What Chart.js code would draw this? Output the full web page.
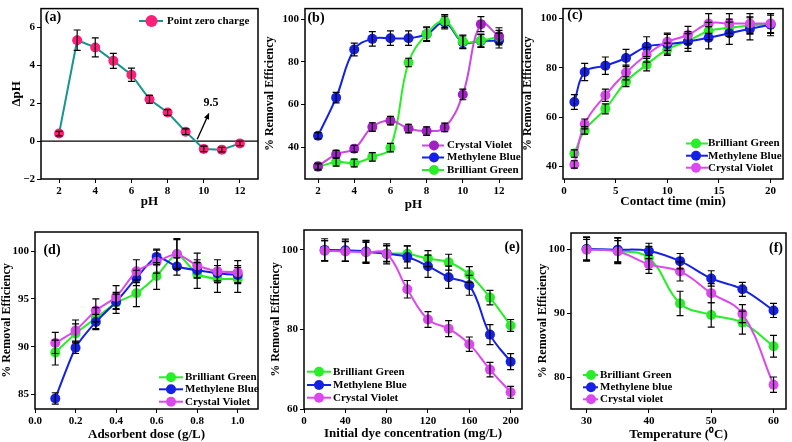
<!DOCTYPE html>
<html>
<head>
<meta charset="utf-8">
<script src="https://cdn.jsdelivr.net/npm/chart.js@4.4.1/dist/chart.umd.min.js"></script>
<style>
body{margin:0;background:#fff;width:792px;height:442px;position:relative;overflow:hidden}
canvas{position:absolute}
</style>
</head>
<body>
<canvas id="ca"></canvas><canvas id="cb"></canvas><canvas id="cc"></canvas>
<canvas id="cd"></canvas><canvas id="ce"></canvas><canvas id="cf"></canvas>
<script>
// (a) point zero charge
const phA = [2, 3, 4, 5, 6, 7, 8, 9, 10, 11, 12];
const dphA = [0.4, 5.33, 4.95, 4.24, 3.51, 2.21, 1.51, 0.5, -0.41, -0.45, -0.12];
const dphErr = [0.12, 0.54, 0.5, 0.4, 0.35, 0.21, 0.15, 0.15, 0.15, 0.12, 0.12];
const ticksAX = [2, 4, 6, 8, 10, 12];
const ticksAY = [-2, 0, 2, 4, 6];

// (b) effect of pH
const phB = [2, 3, 4, 5, 6, 7, 8, 9, 10, 11, 12];
const cvB = [31, 36.6, 39.2, 49.4, 52.4, 48.7, 47.5, 49.2, 64.7, 97.7, 92];
const cvBErr = [1.5, 1.8, 1.6, 2, 2, 2, 2, 2, 2.5, 3.5, 4];
const mbB = [45.3, 63.2, 85.8, 90.8, 91.1, 91.1, 93, 98.5, 89.2, 89.8, 90];
const mbBErr = [1.5, 2.5, 3, 3.4, 3.4, 3.4, 3.4, 3, 3, 3, 3.5];
const bgB = [30.6, 33, 32.5, 35.4, 39.7, 79.7, 93, 99.2, 89.6, 90, 91.8];
const bgBErr = [1.5, 2, 1.8, 2, 2, 2, 3, 3, 3, 3, 3];
const ticksBX = [2, 4, 6, 8, 10, 12];
const ticksBY = [40, 60, 80, 100];

// (c) contact time
const timeC = [1, 2, 4, 6, 8, 10, 12, 14, 16, 18, 20];
const bgC = [45.3, 54.7, 63.4, 74.4, 81.3, 87.5, 90.9, 94.9, 96.2, 97.2, 97.8];
const bgCErr = [1.5, 1.5, 2, 2, 2.5, 2.5, 3, 3.5, 3.5, 3.5, 3.5];
const mbC = [66.2, 78.3, 80.9, 84, 88.6, 89.6, 90.7, 92.2, 94, 95.8, 97.5];
const mbCErr = [3, 3.5, 3.5, 3.5, 4, 4, 4, 4.5, 4.5, 4.5, 4.5];
const cvC = [40.9, 57.3, 68.9, 78.1, 85.3, 90.6, 93.3, 98, 98, 98, 98];
const cvCErr = [1.5, 2, 2.5, 3, 3, 3.5, 3.5, 4, 4, 4, 4];
const ticksCX = [0, 5, 10, 15, 20];
const ticksCY = [40, 60, 80, 100];

// (d) adsorbent dose
const doseD = [0.1, 0.2, 0.3, 0.4, 0.5, 0.6, 0.7, 0.8, 0.9, 1.0];
const bgD = [89.4, 91.4, 93, 94.6, 95.6, 97.4, 99.7, 97.6, 97.1, 97.1];
const bgDErr = [1.3, 1, 1.1, 1.1, 1.4, 1.4, 1.5, 1.5, 1.4, 1.4];
const mbD = [84.6, 89.9, 92.6, 94.7, 97.2, 99.4, 98.4, 98, 97.7, 97.5];
const mbDErr = [0.6, 0.6, 0.8, 0.8, 0.8, 0.8, 0.9, 0.8, 0.8, 0.8];
const cvD = [90.4, 91.7, 93.8, 95.2, 97.9, 98.9, 99.7, 98.5, 97.9, 97.8];
const cvDErr = [1.1, 1.1, 1.2, 1.2, 1.2, 1.2, 1.6, 1.3, 1.2, 1.2];
const ticksDX = [0, 0.2, 0.4, 0.6, 0.8, 1.0];
const ticksDY = [85, 90, 95, 100];

// (e) initial dye concentration
const concE = [20, 40, 60, 80, 100, 120, 140, 160, 180, 200];
const bgE = [99.8, 99.7, 99.4, 99.1, 99, 97.8, 96.9, 93.8, 88, 81];
const bgEErr = [2.5, 2.5, 2.5, 2, 2, 2, 2, 2, 1.8, 1.5];
const mbE = [100, 99.9, 99.6, 99, 98.2, 95.9, 93.1, 91.1, 78.7, 71.9];
const mbEErr = [2.8, 2.8, 2.8, 2.5, 2.8, 2.8, 2.8, 2.5, 2.5, 2];
const cvE = [99.8, 99.6, 99.4, 99, 90.1, 82.5, 80.2, 76.3, 69.9, 64.2];
const cvEErr = [2.5, 2.5, 2.8, 2, 2.2, 2, 2, 1.8, 1.8, 1.5];
const ticksEX = [0, 40, 80, 120, 160, 200];
const ticksEY = [60, 80, 100];

// (f) temperature
const tempF = [30, 35, 40, 45, 50, 55, 60];
const bgF = [100, 99.7, 98.6, 91.5, 89.7, 88.5, 84.8];
const bgFErr = [1.8, 2, 1.8, 1.9, 1.9, 1.8, 1.7];
const mbF = [100, 99.9, 99.7, 98.1, 95.4, 93.7, 90.4];
const mbFErr = [1.9, 1.9, 1.2, 1.2, 1.2, 1.1, 1.1];
const cvF = [99.9, 99.6, 97.6, 96.5, 93.1, 89.9, 78.8];
const cvFErr = [1.6, 1.7, 1.4, 1.5, 1.5, 1.4, 1.2];
const ticksFX = [30, 40, 50, 60];
const ticksFY = [80, 90, 100];

const FONT = 'Liberation Serif';
const GREEN = '#27ee27', BLUE = '#1420e6', VIOLET = '#dc48f0';

function series(xs, ys, err, line, dot, tension, order, r) {
  return {
    data: xs.map((x, i) => ({x: x, y: ys[i]})),
    err: err,
    borderColor: line, backgroundColor: dot,
    pointBackgroundColor: dot, pointBorderColor: dot, pointBorderWidth: 0,
    pointRadius: r || 5, borderWidth: 2, tension: tension, order: order, fill: false
  };
}

function decor(cfg, r) {
  return {
    id: 'decor',
    beforeDatasetsDraw(chart) { if (cfg.under) cfg.under(chart); },
    afterDatasetsDraw(chart) {
      const ctx = chart.ctx, ys = chart.scales.y;
      ctx.save();
      // error bars
      ctx.strokeStyle = '#000'; ctx.lineWidth = 1.2;
      chart.data.datasets.forEach((ds, di) => {
        const meta = chart.getDatasetMeta(di);
        ds.data.forEach((p, i) => {
          const x = meta.data[i].x, e = ds.err[i];
          const y1 = ys.getPixelForValue(p.y + e), y2 = ys.getPixelForValue(p.y - e);
          ctx.beginPath();
          ctx.moveTo(x, y1); ctx.lineTo(x, y2);
          ctx.moveTo(x - 3.5, y1); ctx.lineTo(x + 3.5, y1);
          ctx.moveTo(x - 3.5, y2); ctx.lineTo(x + 3.5, y2);
          ctx.stroke();
        });
      });
      // frame
      const a = chart.chartArea;
      ctx.lineWidth = 1.5;
      ctx.strokeRect(a.left, a.top, a.right - a.left, a.bottom - a.top);
      // panel tag
      ctx.fillStyle = '#000';
      ctx.font = 'bold 14px ' + FONT;
      ctx.textBaseline = 'middle';
      ctx.textAlign = cfg.tag.align;
      ctx.fillText(cfg.tag.text, cfg.tag.x - r.x, cfg.tag.y - r.y);
      // legend
      const L = cfg.legend;
      ctx.textAlign = 'left';
      ctx.font = 'bold 11px ' + FONT;
      L.items.forEach((it, k) => {
        const y = L.ys[k] - r.y;
        ctx.strokeStyle = it.line; ctx.lineWidth = 2;
        ctx.beginPath(); ctx.moveTo(L.x1 - r.x, y); ctx.lineTo(L.x2 - r.x, y); ctx.stroke();
        ctx.fillStyle = it.dot;
        ctx.beginPath(); ctx.arc(L.xm - r.x, y, L.rad, 0, Math.PI * 2); ctx.fill();
        ctx.fillStyle = '#000';
        ctx.fillText(it.label, L.xt - r.x, y);
      });
      if (cfg.over) cfg.over(chart);
      ctx.restore();
    }
  };
}

function panel(id, r, box, cfg) {
  const cv = document.getElementById(id);
  cv.width = r.w; cv.height = r.h;
  cv.style.left = r.x + 'px'; cv.style.top = r.y + 'px';
  const tickFont = {family: FONT, size: 11, weight: 'bold'};
  const grid = {drawOnChartArea: false, drawTicks: true, tickLength: 4, color: '#000', lineWidth: 1};
  new Chart(cv, {
    type: 'line',
    data: {datasets: cfg.datasets},
    options: {
      responsive: false, animation: false, events: [],
      layout: {padding: {left: 0, top: box.t - r.y, right: r.x + r.w - box.r, bottom: 0}},
      plugins: {legend: {display: false}, tooltip: {enabled: false}},
      scales: {
        x: {
          type: 'linear', min: cfg.xr[0], max: cfg.xr[1],
          grid: grid, border: {display: false},
          ticks: {font: tickFont, color: '#000', padding: 2, maxRotation: 0, callback: cfg.xfmt || (v => String(v))},
          afterBuildTicks: s => { s.ticks = cfg.xt.map(v => ({value: v})); },
          afterFit: s => { s.height = r.y + r.h - box.b; },
          title: {display: true, text: cfg.xtitle, color: '#000', font: {family: FONT, size: 13, weight: 'bold'}, padding: {top: 0, bottom: cfg.xtp}}
        },
        y: {
          type: 'linear', min: cfg.yr[0], max: cfg.yr[1],
          grid: grid, border: {display: false},
          ticks: {font: tickFont, color: '#000', padding: 2, callback: cfg.yfmt || (v => String(v))},
          afterBuildTicks: s => { s.ticks = cfg.yt.map(v => ({value: v})); },
          afterFit: s => { s.width = box.l - r.x; },
          title: {display: true, text: cfg.ytitle, color: '#000', font: {family: FONT, size: cfg.ytsize || 12, weight: 'bold'}, padding: {top: cfg.ytp, bottom: 0}}
        }
      }
    },
    plugins: [decor(cfg, r)]
  });
}

const legend3 = (order) => order.map(k => ({
  BG: {label: 'Brilliant Green', line: GREEN, dot: GREEN},
  MB: {label: 'Methylene Blue', line: BLUE, dot: BLUE},
  CV: {label: 'Crystal Violet', line: VIOLET, dot: VIOLET}
}[k]));

// (a)
const arrowFrom = {x: 9.64, y: 0.1}, arrowTo = {x: 10.3, y: 1.5}, arrowText = {x: 10.4, y: 2.0, text: '9.5'};
panel('ca', {x: 0, y: 0, w: 264, h: 215}, {l: 41, t: 5, r: 258, b: 179}, {
  datasets: [series(phA, dphA, dphErr, '#15968e', '#ff1f78', 0, 0, 5)],
  xr: [1, 13], yr: [-2, 7], xt: ticksAX, yt: ticksAY,
  yfmt: v => String(v).replace('-', '\u2212'),
  xtitle: 'pH', ytitle: '\u0394pH', ytsize: 13, xtp: 5.5, ytp: 9,
  tag: {text: '(a)', x: 53, y: 17, align: 'center'},
  legend: {x1: 139, x2: 163, xm: 151.5, xt: 167, rad: 6, ys: [21],
    items: [{label: 'Point zero charge', line: '#15968e', dot: '#ff1f78'}]},
  under(chart) {
    const c = chart.ctx, a = chart.chartArea, y0 = chart.scales.y.getPixelForValue(0);
    c.save(); c.strokeStyle = '#000'; c.lineWidth = 1.2;
    c.beginPath(); c.moveTo(a.left, y0); c.lineTo(a.right, y0); c.stroke(); c.restore();
  },
  over(chart) {
    const c = chart.ctx, xs = chart.scales.x, ys = chart.scales.y;
    const x1 = xs.getPixelForValue(arrowFrom.x), y1 = ys.getPixelForValue(arrowFrom.y);
    const x2 = xs.getPixelForValue(arrowTo.x), y2 = ys.getPixelForValue(arrowTo.y);
    const ang = Math.atan2(y2 - y1, x2 - x1);
    c.strokeStyle = '#000'; c.fillStyle = '#000'; c.lineWidth = 1.3;
    c.beginPath(); c.moveTo(x1, y1); c.lineTo(x2 - 4 * Math.cos(ang), y2 - 4 * Math.sin(ang)); c.stroke();
    c.beginPath(); c.moveTo(x2, y2);
    c.lineTo(x2 - 7 * Math.cos(ang - 0.4), y2 - 7 * Math.sin(ang - 0.4));
    c.lineTo(x2 - 7 * Math.cos(ang + 0.4), y2 - 7 * Math.sin(ang + 0.4));
    c.closePath(); c.fill();
    c.font = 'bold 12px ' + FONT; c.textAlign = 'center'; c.textBaseline = 'middle';
    c.fillText(arrowText.text, xs.getPixelForValue(arrowText.x), ys.getPixelForValue(arrowText.y));
  }
});

// (b)
panel('cb', {x: 258, y: 0, w: 270, h: 215}, {l: 305, t: 5, r: 522, b: 179}, {
  datasets: [
    series(phB, cvB, cvBErr, '#cc48e0', '#a020c4', 0.4, 0, 5),
    series(phB, mbB, mbBErr, BLUE, BLUE, 0.4, 2, 5),
    series(phB, bgB, bgBErr, GREEN, GREEN, 0.4, 1, 5)
  ],
  xr: [1.28, 13.27], yr: [25, 105], xt: ticksBX, yt: ticksBY,
  xtitle: 'pH', ytitle: '% Removal Efficiency', xtp: 3, ytp: 4.8,
  tag: {text: '(b)', x: 316, y: 18, align: 'center'},
  legend: {x1: 422, x2: 444, xm: 434, xt: 447, rad: 5, ys: [145.5, 157.5, 170],
    items: [
      {label: 'Crystal Violet', line: '#cc48e0', dot: '#a020c4'},
      {label: 'Methylene Blue', line: BLUE, dot: BLUE},
      {label: 'Brilliant Green', line: GREEN, dot: GREEN}
    ]}
});

// (c)
panel('cc', {x: 516, y: 0, w: 276, h: 215}, {l: 563, t: 3, r: 783, b: 179}, {
  datasets: [
    series(timeC, bgC, bgCErr, GREEN, GREEN, 0.4, 2, 5),
    series(timeC, mbC, mbCErr, BLUE, BLUE, 0.4, 1, 5),
    series(timeC, cvC, cvCErr, VIOLET, VIOLET, 0.4, 0, 5)
  ],
  xr: [-0.1, 21.2], yr: [35, 104], xt: ticksCX, yt: ticksCY,
  xtitle: 'Contact time (min)', ytitle: '% Removal Efficiency', xtp: 5.5, ytp: 4.8,
  tag: {text: '(c)', x: 575, y: 15, align: 'center'},
  legend: {x1: 686, x2: 708, xm: 696, xt: 708, rad: 5, ys: [143.5, 155.7, 167.7],
    items: legend3(['BG', 'MB', 'CV'])}
});

// (d)
panel('cd', {x: 0, y: 215, w: 264, h: 227}, {l: 35, t: 232, r: 258, b: 409}, {
  datasets: [
    series(doseD, bgD, bgDErr, GREEN, GREEN, 0.2, 2, 5),
    series(doseD, mbD, mbDErr, BLUE, BLUE, 0.2, 1, 5),
    series(doseD, cvD, cvDErr, VIOLET, VIOLET, 0.2, 0, 5)
  ],
  xr: [0, 1.1], yr: [83.5, 102], xt: ticksDX, yt: ticksDY,
  xfmt: v => v.toFixed(1),
  xtitle: 'Adsorbent dose (g/L)', ytitle: '% Removal Efficiency', xtp: 0, ytp: 0,
  tag: {text: '(d)', x: 52, y: 250, align: 'center'},
  legend: {x1: 159, x2: 183, xm: 171, xt: 185, rad: 5, ys: [377.3, 389.3, 401.7],
    items: legend3(['BG', 'MB', 'CV'])}
});

// (e)
panel('ce', {x: 258, y: 215, w: 270, h: 227}, {l: 304, t: 230, r: 522, b: 409}, {
  datasets: [
    series(concE, bgE, bgEErr, GREEN, GREEN, 0.4, 2, 5),
    series(concE, mbE, mbEErr, BLUE, BLUE, 0.4, 1, 5),
    series(concE, cvE, cvEErr, VIOLET, VIOLET, 0.4, 0, 5)
  ],
  xr: [0, 211], yr: [60, 105], xt: ticksEX, yt: ticksEY,
  xtitle: 'Initial dye concentration (mg/L)', ytitle: '% Removal Efficiency', xtp: 1, ytp: 10.8,
  tag: {text: '(e)', x: 520, y: 247, align: 'right'},
  legend: {x1: 307, x2: 331, xm: 319, xt: 333, rad: 5, ys: [371.7, 385, 397.7],
    items: legend3(['BG', 'MB', 'CV'])}
});

// (f)
panel('cf', {x: 522, y: 215, w: 270, h: 227}, {l: 571, t: 233, r: 786, b: 409}, {
  datasets: [
    series(tempF, bgF, bgFErr, GREEN, GREEN, 0.4, 2, 5),
    series(tempF, mbF, mbFErr, BLUE, BLUE, 0.4, 1, 5),
    series(tempF, cvF, cvFErr, VIOLET, VIOLET, 0.4, 0, 5)
  ],
  xr: [27.5, 62], yr: [75, 102.5], xt: ticksFX, yt: ticksFY,
  xtitle: 'Temperature (\u2070C)', ytitle: '% Removal Efficiency', xtp: 0, ytp: 13.8,
  tag: {text: '(f)', x: 783, y: 248, align: 'right'},
  legend: {x1: 583, x2: 598, xm: 591, xt: 600, rad: 5, ys: [375, 387.3, 399.3],
    items: [
      {label: 'Brilliant Green', line: GREEN, dot: GREEN},
      {label: 'Methylene blue', line: BLUE, dot: BLUE},
      {label: 'Crystal violet', line: VIOLET, dot: VIOLET}
    ]}
});
</script>
</body>
</html>
